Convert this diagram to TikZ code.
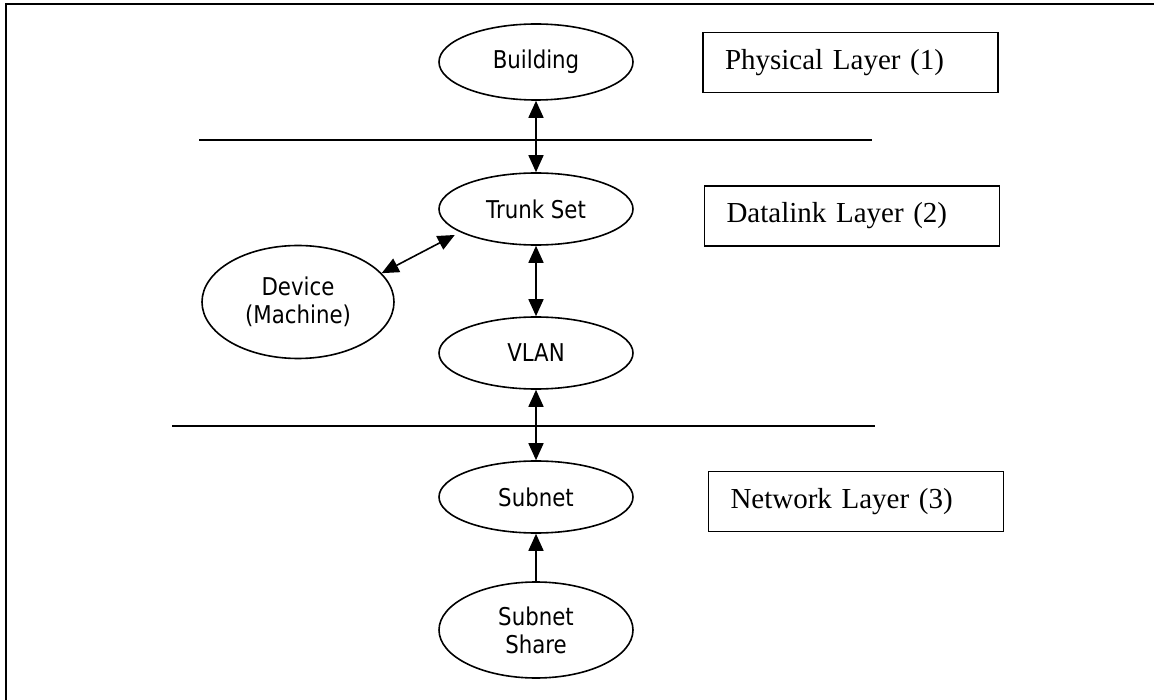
\documentclass[tikz,border=0pt]{standalone}
\usepackage{fontspec}
\setmainfont{Liberation Serif}
\newfontfamily\ellfont[FakeStretch=0.87]{DejaVu Sans}
\usetikzlibrary{shapes.geometric,arrows.meta}
\tikzset{
  ell/.style={draw, ellipse, line width=1.6pt, inner sep=0pt, minimum width=194pt, minimum height=72pt,
    font=\ellfont\fontsize{24.5}{28}\selectfont, align=center},
  layerbox/.style={draw, rectangle, line width=1.5pt, inner xsep=22pt, inner ysep=0pt, text width=251pt,
    minimum height=60pt, align=left, font=\fontsize{29}{32}\selectfont},
  sepline/.style={line width=1.8pt},
  conn/.style={line width=1.6pt, {Triangle[length=17pt,width=15pt]}-{Triangle[length=17pt,width=15pt]}},
  oneway/.style={line width=1.6pt, -{Triangle[length=17pt,width=15pt]}}
}
\begin{document}
\begin{tikzpicture}[x=1pt,y=-1pt]
\useasboundingbox (0,0) rectangle (1154,700);
% frame (top and left edges only visible)
\coordinate (fTL) at (6,4);
\coordinate (fTR) at (1154,4);
\coordinate (fBL) at (6,700);
\draw[line width=2pt] (fBL) -- (fTL) -- (fTR);
% separator lines
\coordinate (l1a) at (199,140);
\coordinate (l1b) at (872,140);
\coordinate (l2a) at (172,426);
\coordinate (l2b) at (875,426);
\draw[sepline] (l1a) -- (l1b);
\draw[sepline] (l2a) -- (l2b);
% ellipses
\node[ell, minimum height=76pt] (bld) at (536,62) {Building};
\node[ell] (trunk) at (536,209) {Trunk Set};
\node[ell] (vlan) at (536,353) {VLAN};
\node[ell] (subnet) at (536,497) {Subnet};
\node[ell, minimum height=96pt] (share) at (536,630) {Subnet\\Share};
\node[ell, minimum width=192pt, minimum height=113pt] (dev) at (298,302) {Device\\(Machine)};
% layer boxes
\node[layerbox] (phys) at (850.5,62.5) {Physical Layer (1)};
\node[layerbox] (dlink) at (852,216) {Datalink Layer (2)};
\node[layerbox] (netl) at (856,501.5) {Network Layer (3)};
% connectors
\draw[conn] (bld.south) -- (trunk.north);
\draw[conn] (trunk.south) -- (vlan.north);
\draw[conn] (vlan.south) -- (subnet.north);
\draw[oneway] (share.north) -- (subnet.south);
\draw[conn, shorten >=6pt] (dev.19) -- (trunk.197);
\end{tikzpicture}
\end{document}
